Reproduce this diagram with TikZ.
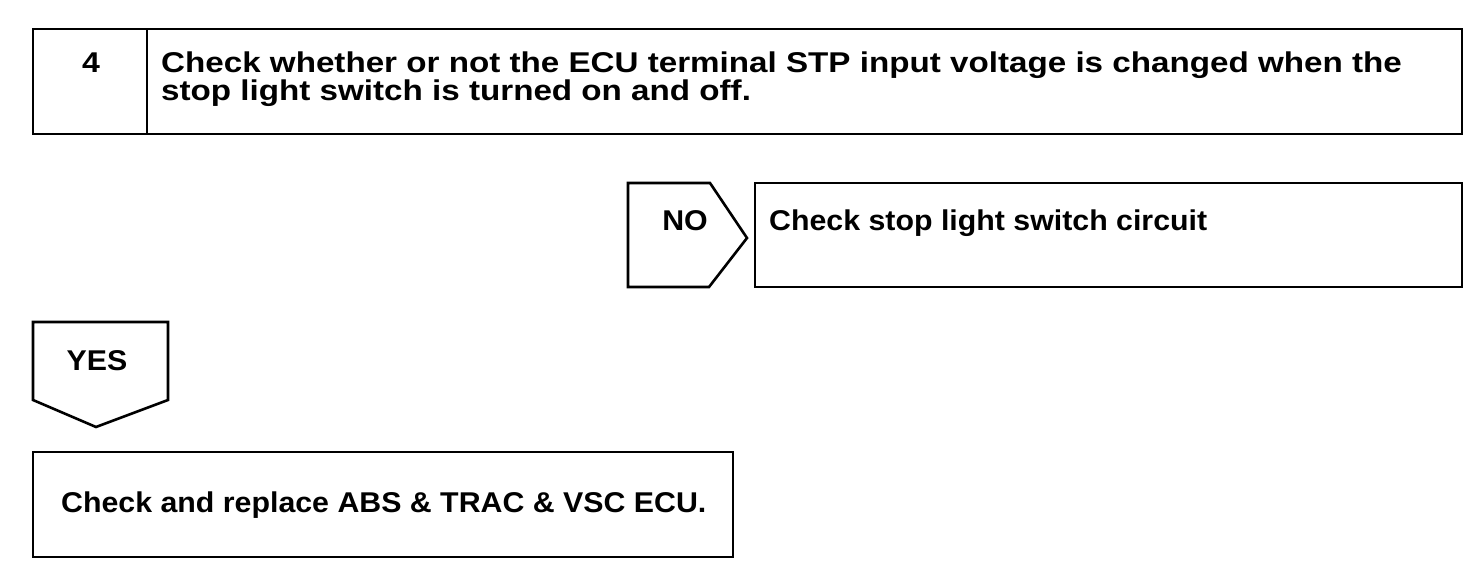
\documentclass[tikz,border=0pt]{standalone}
\usepackage{fontspec}
\usepackage{graphicx}
\setmainfont{Liberation Sans}
\newcommand\widetxt[2]{\scalebox{#1}[1]{#2}}
\begin{document}
\begin{tikzpicture}[x=1pt,y=-1pt,
  shape line/.style={draw=black,line width=2.6pt,line join=miter},
  lbl/.style={anchor=base west,inner sep=0pt,font=\fontsize{28.6}{30}\bfseries\selectfont}]
\useasboundingbox (0,0) rectangle (1472,584);
% top box
\draw[shape line] (33,29) rectangle (1462,134);
\draw[shape line] (147,29) -- (147,134);
\node[lbl,anchor=base] (num) at (91,72) {\widetxt{1.12}{4}};
\node[lbl] (q1) at (161,72) {\widetxt{1.16}{Check whether or not the ECU terminal STP input voltage is changed when the}};
\node[lbl] (q2) at (161,100) {\widetxt{1.16}{stop light switch is turned on and off.}};
% NO tab
\draw[shape line] (628,183) -- (710,183) -- (747,238) -- (709,287) -- (628,287) -- cycle;
\node[lbl,anchor=base] (no) at (685,230) {\widetxt{1.06}{NO}};
\draw[shape line] (755,183) rectangle (1462,287);
\node[lbl] (nores) at (769,230) {\widetxt{1.06}{Check stop light switch circuit}};
% YES tab
\draw[shape line] (33,322) -- (168,322) -- (168,400) -- (96,427) -- (33,400) -- cycle;
\node[lbl,anchor=base] (yes) at (97,370) {\widetxt{1.06}{YES}};
\draw[shape line] (33,452) rectangle (733,557);
\node[lbl] (yesres) at (61,512) {\widetxt{1.06}{Check and replace ABS \& TRAC \& VSC ECU.}};
\end{tikzpicture}
\end{document}
